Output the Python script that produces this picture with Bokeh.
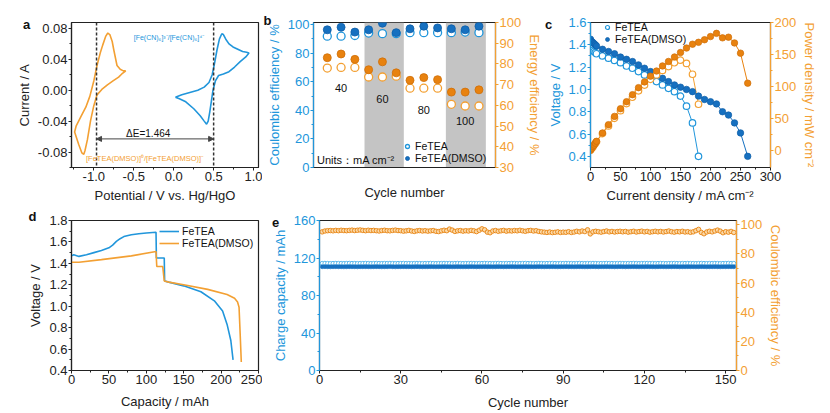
from bokeh.plotting import figure
from bokeh.layouts import column, row
from bokeh.models import (Range1d, LinearAxis, BoxAnnotation, Label, Legend, GridBox,
                          LegendItem, Arrow, NormalHead, Span, FixedTicker,
                          PrintfTickFormatter)
from bokeh.core.properties import value
from bokeh.embed import file_html
from bokeh.resources import INLINE

# ---------------- data ----------------
# a: cyclic voltammetry (potential V vs Hg/HgO, current A)
cv_dmso_x = [-0.60, -0.65, -0.69, -0.76, -0.83, -0.90, -0.96, -1.00, -1.04, -1.08, -1.11,
             -1.125, -1.15, -1.19, -1.24, -1.22, -1.16, -1.10, -1.05, -1.00, -0.96, -0.92,
             -0.89, -0.85, -0.825, -0.80, -0.77, -0.75, -0.73, -0.71, -0.67, -0.63, -0.60]
cv_dmso_y = [0.025, 0.021, 0.017, 0.012, 0.007, 0.001, -0.006, -0.020, -0.039, -0.064, -0.078,
             -0.083, -0.081, -0.070, -0.054, -0.046, -0.034, -0.022, -0.008, 0.012, 0.032, 0.048,
             0.058, 0.070, 0.074, 0.072, 0.063, 0.052, 0.042, 0.032, 0.027, 0.025, 0.025]
cv_fcn_x = [0.02, 0.10, 0.20, 0.30, 0.38, 0.44, 0.48, 0.51, 0.54, 0.57, 0.60, 0.62, 0.65, 0.69,
            0.74, 0.80, 0.86, 0.91, 0.94, 0.90, 0.83, 0.76, 0.69, 0.62, 0.56, 0.52, 0.49, 0.47,
            0.45, 0.43, 0.41, 0.38, 0.33, 0.25, 0.15, 0.07, 0.02]
cv_fcn_y = [-0.009, -0.006, -0.003, 0.000, 0.004, 0.010, 0.020, 0.035, 0.052, 0.066, 0.073, 0.072,
            0.066, 0.060, 0.056, 0.053, 0.050, 0.049, 0.048, 0.043, 0.037, 0.030, 0.024, 0.021,
            0.019, 0.012, 0.000, -0.014, -0.028, -0.040, -0.044, -0.040, -0.033, -0.024, -0.015,
            -0.011, -0.009]
cv_marks = [-0.966, 0.498]
cv_arrow_y = -0.063

# b: rate performance
rate_cycles = [1, 2, 3, 4, 5, 6, 7, 8, 9, 10, 11, 12]
ce_fetea = [91.9, 91.9, 92.4, 94.1, 93.7, 93.7, 94.4, 94.4, 94.4, 94.4, 94.8, 94.4]
ce_dmso = [96.4, 98.2, 94.8, 96.4, 101.0, 94.4, 97.1, 98.9, 97.7, 97.1, 96.4, 98.9]
ee_fetea = [78.0, 78.3, 78.3, 73.7, 73.7, 74.1, 68.3, 68.3, 68.3, 60.5, 59.7, 59.7]
ee_dmso = [83.0, 84.8, 82.2, 77.2, 81.0, 75.7, 72.1, 73.4, 72.4, 66.4, 66.4, 67.5]
rate_labels = ["40", "60", "80", "100"]
rate_label_cycle = [2, 5, 8, 11]
rate_label_ce = [55.5, 48.0, 40.0, 32.5]
rate_bands = [(3.7, 6.55), (9.6, 12.5)]

# c: polarization and power density
i_fetea = [0, 2, 4, 6, 8, 10, 20, 30, 40, 50, 60, 70, 80, 90, 100, 110, 120, 130, 140,
           150, 160, 170, 180]
v_fetea = [1.40, 1.37, 1.35, 1.34, 1.33, 1.32, 1.30, 1.28, 1.26, 1.24, 1.21, 1.19, 1.16,
           1.13, 1.11, 1.07, 1.04, 1.01, 0.98, 0.94, 0.85, 0.70, 0.40]
p_fetea = [0, 3, 5, 8, 11, 13, 26, 38, 50, 62, 73, 83, 93, 102, 111, 118, 125, 131, 137,
           141, 136, 119, 72]
i_dmso = [0, 2, 4, 6, 8, 10, 20, 30, 40, 50, 60, 70, 80, 90, 100, 110, 120, 130, 140, 150,
          160, 170, 180, 190, 200, 210, 220, 230, 240, 250, 262]
v_dmso = [1.45, 1.43, 1.42, 1.41, 1.40, 1.39, 1.36, 1.34, 1.32, 1.29, 1.27, 1.25, 1.22, 1.19,
          1.16, 1.13, 1.10, 1.07, 1.04, 1.02, 1.00, 0.98, 0.94, 0.91, 0.89, 0.87, 0.80, 0.77,
          0.70, 0.61, 0.40]
p_dmso = [0, 3, 6, 8, 11, 14, 27, 40, 53, 65, 76, 87, 98, 107, 116, 124, 132, 139, 146, 153,
          160, 166, 169, 173, 178, 183, 176, 177, 168, 152, 105]

# d: charge/discharge curves
cap_fetea = [0, 3, 10, 20, 30, 40, 50, 55, 60, 65, 70, 80, 90, 100, 113, 113.5, 124, 124.5,
             130, 150, 173, 191, 202, 208, 213, 216]
volt_fetea = [1.47, 1.48, 1.465, 1.48, 1.50, 1.52, 1.545, 1.57, 1.605, 1.63, 1.65, 1.667,
              1.677, 1.683, 1.69, 1.45, 1.45, 1.235, 1.225, 1.19, 1.135, 1.05, 0.955, 0.83,
              0.68, 0.50]
cap_dmso = [0, 10, 40, 80, 113, 114, 122, 124, 130, 150, 182, 208, 218, 222, 224, 225.5, 227]
volt_dmso = [1.41, 1.41, 1.435, 1.47, 1.51, 1.37, 1.37, 1.235, 1.225, 1.20, 1.157, 1.11,
             1.075, 1.04, 0.99, 0.74, 0.48]

# e: long cycling
cycles = list(range(1, 154))
charge_cap = [114.3, 114.4, 114.3, 114.2, 114.3, 114.4, 114.3, 114.3, 114.2, 114.3, 114.4,
              114.3, 114.3, 114.2, 114.3, 114.3, 114.4, 114.3, 114.2, 114.3, 114.4, 114.3,
              114.2, 114.3, 114.3, 114.4, 114.3, 114.2, 114.3, 114.3, 114.4, 114.3, 114.3,
              114.2, 114.3, 114.4, 114.3, 114.2, 114.3, 114.3, 114.4, 114.3, 114.2, 114.3,
              114.3, 114.4, 114.3, 114.3, 114.2, 114.3, 114.4, 114.3, 114.2, 114.3, 114.3,
              114.4, 114.3, 114.2, 114.3, 114.3, 114.4, 114.3, 114.3, 114.2, 114.3, 114.4,
              114.3, 114.2, 114.3, 114.3, 114.4, 114.3, 114.2, 114.3, 114.3, 114.4, 114.3,
              114.3, 114.2, 114.3, 114.4, 114.3, 114.2, 114.3, 114.3, 114.4, 114.3, 114.2,
              114.3, 114.3, 114.4, 114.3, 114.3, 114.2, 114.3, 114.4, 114.3, 114.2, 114.3,
              114.3, 114.4, 114.3, 114.2, 114.3, 114.3, 114.4, 114.3, 114.3, 114.2, 114.3,
              114.4, 114.3, 114.2, 114.3, 114.3, 114.4, 114.3, 114.2, 114.3, 114.3, 114.4,
              114.3, 114.3, 114.2, 114.3, 114.4, 114.3, 114.2, 114.3, 114.3, 114.4, 114.3,
              114.2, 114.3, 114.3, 114.4, 114.3, 114.3, 114.2, 114.3, 114.4, 114.3, 114.2,
              114.3, 114.3, 114.4, 114.3, 114.2, 114.3, 114.3, 114.4, 114.3, 114.3]
discharge_cap = [110.7, 110.8, 110.7, 110.6, 110.7, 110.8, 110.7, 110.7, 110.6, 110.7, 110.8,
                 110.7, 110.7, 110.6, 110.7, 110.7, 110.8, 110.7, 110.6, 110.7, 110.8, 110.7,
                 110.6, 110.7, 110.7, 110.8, 110.7, 110.6, 110.7, 110.7, 110.8, 110.7, 110.7,
                 110.6, 110.7, 110.8, 110.7, 110.6, 110.7, 110.7, 110.8, 110.7, 110.6, 110.7,
                 110.7, 110.8, 110.7, 110.7, 110.6, 110.7, 110.8, 110.7, 110.6, 110.7, 110.7,
                 110.8, 110.7, 110.6, 110.7, 110.7, 110.8, 110.7, 110.7, 110.6, 110.7, 110.8,
                 110.7, 110.6, 110.7, 110.7, 110.8, 110.7, 110.6, 110.7, 110.7, 110.8, 110.7,
                 110.7, 110.6, 110.7, 110.8, 110.7, 110.6, 110.7, 110.7, 110.8, 110.7, 110.6,
                 110.7, 110.7, 110.8, 110.7, 110.7, 110.6, 110.7, 110.8, 110.7, 110.6, 110.7,
                 110.7, 110.8, 110.7, 110.6, 110.7, 110.7, 110.8, 110.7, 110.7, 110.6, 110.7,
                 110.8, 110.7, 110.6, 110.7, 110.7, 110.8, 110.7, 110.6, 110.7, 110.7, 110.8,
                 110.7, 110.7, 110.6, 110.7, 110.8, 110.7, 110.6, 110.7, 110.7, 110.8, 110.7,
                 110.6, 110.7, 110.7, 110.8, 110.7, 110.7, 110.6, 110.7, 110.8, 110.7, 110.6,
                 110.7, 110.7, 110.8, 110.7, 110.6, 110.7, 110.7, 110.8, 110.7, 110.7]
cycle_ce = [95.2, 95.8, 96.0, 96.1, 95.9, 96.2, 96.0, 96.3, 96.1, 96.0,
            96.2, 96.4, 96.1, 96.3, 96.5, 96.2, 96.0, 96.3, 96.1, 96.2,
            96.0, 95.8, 96.1, 96.3, 96.0, 95.9, 96.2, 96.4, 96.1, 96.0,
            95.7, 95.9, 96.2, 95.8, 95.5, 95.9, 96.1, 95.8, 96.0, 95.7,
            95.9, 96.1, 95.6, 95.4, 95.9, 96.3, 96.0, 97.1, 96.4, 95.5,
            95.9, 96.1, 95.7, 96.0, 95.8, 96.2, 95.9, 95.4, 96.3, 97.3,
            96.6, 95.0, 94.6, 95.8, 96.1, 95.6, 95.9, 96.2, 95.7, 96.0,
            95.8, 96.1, 95.9, 96.3, 95.9, 95.6, 96.0, 96.2, 95.8, 96.0,
            95.5, 95.2, 95.0, 94.8, 95.1, 94.7, 94.9, 95.2, 94.8, 95.0,
            94.9, 95.3, 94.8, 95.1, 95.6, 95.2, 95.8, 95.4, 96.6, 93.8,
            95.2, 95.6, 95.3, 95.0, 95.4, 95.8, 95.2, 95.5, 95.1, 95.4,
            95.6, 95.2, 95.5, 95.0, 95.3, 95.6, 95.1, 95.4, 95.7, 95.2,
            95.5, 95.0, 95.3, 95.6, 95.2, 95.5, 95.1, 95.4, 95.8, 95.3,
            95.0, 95.4, 95.2, 95.6, 95.1, 95.3, 94.9, 95.2, 96.0, 96.9,
            94.8, 93.9, 95.1, 95.6, 95.2, 95.8, 96.4, 95.7, 94.6, 95.3,
            95.0, 95.5, 94.8]

# panel letters, placed on a transparent sheet laid over the whole page (page pixels)
panel_letters = ["a", "b", "c", "d", "e"]
letter_px = [26, 267, 548, 32, 275]
letter_py = [24, 20, 24, 216, 222]

# ---------------- style ----------------
FONT = "Liberation Sans"
BLUE = "#2196db"
BLUE_DARK = "#1670c0"
BLUE_LIGHT = "#5ab8ec"
ORANGE = "#f3a033"
ORANGE_DARK = "#e8820f"
FRAME = "#222222"


def make_fig(w, h, xr, yr, l, r, t, b):
    p = figure(width=w, height=h, x_range=xr, y_range=yr, output_backend="svg",
               toolbar_location=None, tools="", min_border_left=l, min_border_right=r,
               min_border_top=t, min_border_bottom=b)
    p.grid.visible = False
    p.outline_line_color = FRAME
    p.outline_line_width = 1.2
    return p


def style_axis(ax, label, color=FRAME, ticks=None, minor=None, fmt=None, standoff=3):
    ax.axis_label = label
    ax.axis_line_color = color
    ax.axis_line_width = 1.2
    ax.major_tick_line_color = color
    ax.minor_tick_line_color = color
    ax.major_label_text_color = color
    ax.axis_label_text_color = color
    ax.major_label_text_font = FONT
    ax.axis_label_text_font = FONT
    ax.major_label_text_font_size = "13px"
    ax.axis_label_text_font_size = "13px"
    ax.axis_label_text_font_style = "normal"
    ax.major_tick_in = 0
    ax.major_tick_out = 3
    ax.minor_tick_in = 0
    ax.minor_tick_out = 2
    ax.major_label_standoff = 1
    ax.axis_label_standoff = standoff
    if ticks is not None:
        ax.ticker = FixedTicker(ticks=ticks, minor_ticks=minor or [])
    if fmt:
        ax.formatter = PrintfTickFormatter(format=fmt)


def note(p, x, y, text, size="11px", color="#111111", align="center"):
    p.add_layout(Label(x=x, y=y, text=text, text_font=FONT, text_font_size=size,
                       text_color=color, text_align=align, text_baseline="middle"))


def flat_legend(p, items, loc, glyph_w=10):
    leg = Legend(items=items, location=loc, background_fill_alpha=0, border_line_color=None,
                 padding=0, spacing=0, margin=0, label_standoff=3, glyph_width=glyph_w,
                 glyph_height=10, label_height=11, label_text_font=FONT,
                 label_text_font_size="10.5px", label_text_color="#111111")
    p.add_layout(leg, "center")


# ---------------- a ----------------
fa = make_fig(262, 205, (-1.279, 1.059), (-0.1, 0.0876), 71, 4, 22, 34)
fa.line(cv_dmso_x, cv_dmso_y, line_color=ORANGE, line_width=1.6)
fa.line(cv_fcn_x, cv_fcn_y, line_color=BLUE, line_width=1.6)
for xm in cv_marks:
    fa.add_layout(Span(location=xm, dimension="height", line_color="#333333",
                       line_width=1.5, line_dash="3 2"))
fa.add_layout(Arrow(start=NormalHead(size=5, line_color="#444444", fill_color="#444444"),
                    end=NormalHead(size=5, line_color="#444444", fill_color="#444444"),
                    x_start=cv_marks[0], x_end=cv_marks[1], y_start=cv_arrow_y,
                    y_end=cv_arrow_y, line_color="#444444", line_width=1))
note(fa, -0.32, -0.056, "ΔE=1.464", size="10px")
note(fa, -0.36, -0.089, "[FeTEA(DMSO)]⁰/[FeTEA(DMSO)]⁻", size="7.5px", color=ORANGE)
note(fa, -0.06, 0.068, "[Fe(CN)₆]³⁻/[Fe(CN)₆]⁴⁻", size="7px", color=BLUE)
style_axis(fa.xaxis[0], "Potential / V vs. Hg/HgO", ticks=[-1, -0.5, 0, 0.5, 1],
           minor=[-1.25, -0.75, -0.25, 0.25, 0.75], fmt="%.1f", standoff=4)
style_axis(fa.yaxis[0], "Current / A", ticks=[-0.08, -0.04, 0, 0.04, 0.08],
           minor=[-0.1, -0.06, -0.02, 0.02, 0.06], fmt="%.2f")

# ---------------- b ----------------
fb = make_fig(283, 205, (0, 13.2), (0, 101.5), 51, 43, 22, 33)
fb.extra_y_ranges = {"ee": Range1d(30, 100)}
for lo, hi in rate_bands:
    fb.add_layout(BoxAnnotation(left=lo, right=hi, fill_color="#c4c4c4", fill_alpha=1,
                                line_color=None, level="underlay"))
r_ce1 = fb.scatter(rate_cycles, ce_fetea, size=8, marker="circle", fill_color="white",
                   line_color=BLUE, line_width=1.3)
r_ce2 = fb.scatter(rate_cycles, ce_dmso, size=8, marker="circle", fill_color=BLUE_DARK,
                   line_color="#0f5ea8", line_width=0.8)
fb.scatter(rate_cycles, ee_fetea, size=8, marker="circle", fill_color="white",
           line_color=ORANGE, line_width=1.3, y_range_name="ee")
fb.scatter(rate_cycles, ee_dmso, size=8, marker="circle", fill_color=ORANGE_DARK,
           line_color="#cf6f08", line_width=0.8, y_range_name="ee")
for lab, cx, cy in zip(rate_labels, rate_label_cycle, rate_label_ce):
    note(fb, cx, cy, lab, size="11px")
note(fb, 0.25, 5.0, "Units：mA cm⁻²", size="11px", align="left")
flat_legend(fb, [LegendItem(label="FeTEA", renderers=[r_ce1]),
                 LegendItem(label="FeTEA(DMSO)", renderers=[r_ce2])], (89, 3))
style_axis(fb.xaxis[0], "Cycle number", ticks=[], standoff=17)
style_axis(fb.yaxis[0], "Coulombic efficiency / %", color=BLUE,
           ticks=[0, 20, 40, 60, 80, 100], minor=[10, 30, 50, 70, 90])
ax_ee = LinearAxis(y_range_name="ee")
fb.add_layout(ax_ee, "right")
style_axis(ax_ee, "Energy efficiency / %", color=ORANGE, ticks=[30, 40, 50, 60, 70, 80, 90, 100])

# ---------------- c ----------------
fc = make_fig(285, 205, (0, 300), (0.3, 1.6), 38, 60, 21, 33)
fc.extra_y_ranges = {"pw": Range1d(-27, 200)}
fc.line(i_fetea, v_fetea, line_color=BLUE, line_width=1)
fc.line(i_dmso, v_dmso, line_color=BLUE_DARK, line_width=1)
fc.line(i_fetea, p_fetea, line_color=ORANGE, line_width=1, y_range_name="pw")
fc.line(i_dmso, p_dmso, line_color=ORANGE_DARK, line_width=1, y_range_name="pw")
rc1 = fc.scatter(i_fetea, v_fetea, size=6.5, fill_color="white", line_color=BLUE, line_width=1.2)
rc2 = fc.scatter(i_dmso, v_dmso, size=6.5, fill_color=BLUE_DARK, line_color="#0f5ea8",
                 line_width=0.7)
fc.scatter(i_fetea, p_fetea, size=6.5, fill_color="white", line_color=ORANGE, line_width=1.2,
           y_range_name="pw")
fc.scatter(i_dmso, p_dmso, size=6.5, fill_color=ORANGE_DARK, line_color="#cf6f08",
           line_width=0.7, y_range_name="pw")
flat_legend(fc, [LegendItem(label="FeTEA", renderers=[rc1]),
                 LegendItem(label="FeTEA(DMSO)", renderers=[rc2])], (12, 122))
style_axis(fc.xaxis[0], "Current density / mA cm⁻²", ticks=[0, 50, 100, 150, 200, 250, 300],
           minor=[25, 75, 125, 175, 225, 275], standoff=4)
style_axis(fc.yaxis[0], "Voltage / V", color=BLUE, ticks=[0.4, 0.6, 0.8, 1.0, 1.2, 1.4, 1.6],
           minor=[0.5, 0.7, 0.9, 1.1, 1.3, 1.5], fmt="%.1f", standoff=2)
ax_pw = LinearAxis(y_range_name="pw")
fc.add_layout(ax_pw, "right")
style_axis(ax_pw, "Power density / mW cm⁻²", color=ORANGE, ticks=[0, 50, 100, 150, 200],
           minor=[25, 75, 125, 175])

# ---------------- d ----------------
fd = make_fig(262, 208, (0, 250), (0.4, 1.8), 71, 4, 14, 43)
rd1 = fd.line(cap_fetea, volt_fetea, line_color=BLUE, line_width=1.6)
rd2 = fd.line(cap_dmso, volt_dmso, line_color=ORANGE, line_width=1.6)
flat_legend(fd, [LegendItem(label="FeTEA", renderers=[rd1]),
                 LegendItem(label="FeTEA(DMSO)", renderers=[rd2])], (88, 121), glyph_w=20)
style_axis(fd.xaxis[0], "Capacity / mAh", ticks=[0, 50, 100, 150, 200, 250],
           minor=[25, 75, 125, 175, 225], standoff=7)
style_axis(fd.yaxis[0], "Voltage / V", ticks=[0.4, 0.6, 0.8, 1.0, 1.2, 1.4, 1.6, 1.8],
           minor=[0.5, 0.7, 0.9, 1.1, 1.3, 1.5, 1.7], fmt="%.1f")

# ---------------- e ----------------
fe = make_fig(568, 208, (0, 154), (0, 160), 57, 94, 15, 41)
fe.extra_y_ranges = {"ce": Range1d(0, 103)}
fe.scatter(cycles, charge_cap, size=4, fill_color="white", line_color=BLUE_LIGHT, line_width=1)
fe.scatter(cycles, discharge_cap, size=4, fill_color=BLUE_DARK, line_color=BLUE_DARK,
           line_width=0.6)
fe.scatter(cycles, cycle_ce, size=4.5, fill_color="#fbd9a8", line_color=ORANGE_DARK,
           line_width=0.9, y_range_name="ce")
style_axis(fe.xaxis[0], "Cycle number", ticks=[0, 30, 60, 90, 120, 150],
           minor=[15, 45, 75, 105, 135], standoff=8)
style_axis(fe.yaxis[0], "Charge capacity / mAh", color=BLUE, ticks=[0, 40, 80, 120, 160],
           minor=[20, 60, 100, 140])
ax_ce = LinearAxis(y_range_name="ce")
fe.add_layout(ax_ce, "right")
style_axis(ax_ce, "Coulombic efficiency / %", color=ORANGE, ticks=[0, 20, 40, 60, 80, 100],
           minor=[10, 30, 50, 70, 90])

# ---------------- letters sheet ----------------
sheet = figure(width=830, height=413, x_range=(0, 830), y_range=(413, 0),
               output_backend="svg", toolbar_location=None, tools="",
               x_axis_location=None, y_axis_location=None, min_border=0)
sheet.grid.visible = False
sheet.outline_line_color = None
sheet.background_fill_alpha = 0
sheet.border_fill_alpha = 0
sheet.text(x=letter_px, y=letter_py, text=panel_letters, text_font=value(FONT),
           text_font_size="13px", text_font_style="bold", text_color="#111111",
           text_align="center", text_baseline="middle")

panels = column(row(fa, fb, fc), row(fd, fe))
page = GridBox(children=[(panels, 0, 0), (sheet, 0, 0)])
open("out.html", "w").write(file_html(page, INLINE))
